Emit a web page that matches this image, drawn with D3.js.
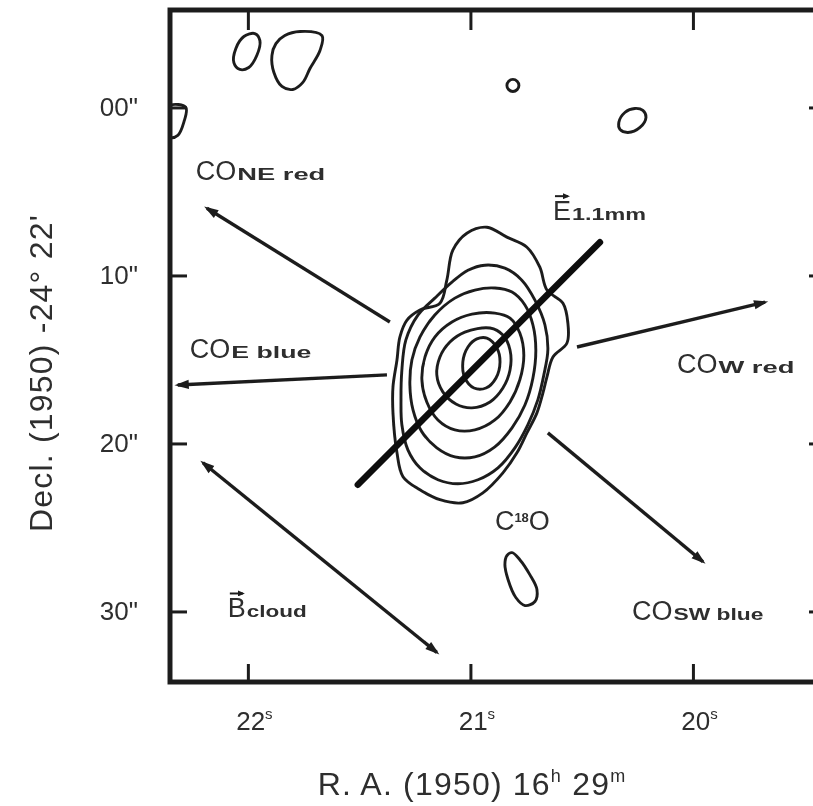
<!DOCTYPE html>
<html>
<head>
<meta charset="utf-8">
<script src="https://cdn.jsdelivr.net/npm/d3@7"></script>
<style>
html, body { margin: 0; padding: 0; background: #fff; }
svg { display: block; font-family: "Liberation Sans", Arial, sans-serif; }
</style>
</head>
<body>
<svg width="813" height="806"></svg>
<script>
/* Ticks: R.A. in seconds of time (16h29m + s), Decl. offset in arcsec (-24d22' + ") */
var raTicks = [22, 21, 20];
var raTickLabels = ["22", "21", "20"];
var decTicks = [0, 10, 20, 30];
var decTickLabels = ["00\"", "10\"", "20\"", "30\""];

/* C18O contours, points as [R.A. s, Decl. "] - outermost first */
var c18oLevel1 = [[20.926,7.13],[20.836,7.72],[20.746,8.32],[20.688,9.51],[20.656,10.87],[20.584,11.65],[20.562,12.83],[20.566,14.02],[20.629,14.85],[20.656,16.04],[20.674,16.99],[20.701,18.18],[20.746,19.37],[20.791,20.56],[20.854,21.75],[20.944,22.94],[21.034,23.53],[21.137,23.35],[21.227,22.76],[21.303,21.98],[21.330,20.56],[21.348,18.18],[21.348,16.64],[21.330,15.03],[21.317,13.67],[21.285,12.66],[21.227,12.06],[21.137,11.65],[21.106,10.28],[21.079,8.50],[21.016,7.49]];
var c18oLevel2 = [[20.935,9.39],[20.845,9.57],[20.769,10.28],[20.710,11.47],[20.665,12.95],[20.652,14.44],[20.670,15.92],[20.697,17.41],[20.742,18.89],[20.800,20.26],[20.876,21.45],[20.966,22.16],[21.056,22.40],[21.146,22.16],[21.227,21.45],[21.281,20.38],[21.308,18.89],[21.312,17.41],[21.308,15.63],[21.290,13.84],[21.236,12.36],[21.160,11.35],[21.083,10.40],[21.011,9.69]];
var c18oLevel3 = [[20.890,10.75],[20.813,10.99],[20.755,11.76],[20.719,12.95],[20.706,14.44],[20.719,16.10],[20.755,17.71],[20.813,19.07],[20.890,20.20],[20.980,20.80],[21.070,20.80],[21.151,20.26],[21.218,19.31],[21.258,18.00],[21.272,16.52],[21.263,15.03],[21.227,13.67],[21.160,12.36],[21.070,11.35],[20.980,10.87]];
var c18oLevel4 = [[20.890,12.24],[20.822,12.54],[20.778,13.43],[20.760,14.74],[20.778,16.22],[20.822,17.53],[20.890,18.60],[20.980,19.19],[21.070,19.19],[21.146,18.60],[21.196,17.53],[21.218,16.22],[21.204,14.85],[21.160,13.67],[21.083,12.77],[20.993,12.30]];
var c18oLevel5 = [[20.912,13.13],[20.854,13.55],[20.822,14.44],[20.822,15.63],[20.854,16.70],[20.912,17.53],[20.993,17.88],[21.065,17.65],[21.124,16.93],[21.151,15.92],[21.137,14.85],[21.092,13.96],[21.025,13.37]];
var c18oLevel6 = [[20.926,13.73],[20.881,14.32],[20.867,15.15],[20.885,16.10],[20.930,16.70],[20.984,16.70],[21.025,16.10],[21.034,15.15],[21.011,14.26],[20.971,13.78]];

/* isolated weak contours */
var blobTopLeft = [[21.969,-4.40],[21.946,-3.98],[21.960,-3.09],[21.996,-2.38],[22.036,-2.26],[22.063,-2.67],[22.054,-3.51],[22.018,-4.22]];
var blobTop = [[21.834,-4.28],[21.766,-4.52],[21.667,-4.28],[21.676,-3.39],[21.721,-2.32],[21.753,-1.49],[21.798,-1.07],[21.847,-1.25],[21.883,-2.08],[21.892,-3.09],[21.874,-3.80]];
var blobSmall = [[20.809,-1.67],[20.790,-1.56],[20.782,-1.31],[20.790,-1.06],[20.809,-0.95],[20.828,-1.06],[20.836,-1.31],[20.828,-1.56]];
var blobRight = [[20.225,0.18],[20.211,0.59],[20.238,1.19],[20.292,1.49],[20.328,1.31],[20.333,0.89],[20.306,0.30],[20.261,0.06]];
var blobEdge = [[22.351,-0.12],[22.279,0.00],[22.288,0.89],[22.315,1.66],[22.351,1.78],[22.400,0.90]];
var blobBottom = [[20.813,26.50],[20.778,26.92],[20.733,27.81],[20.701,28.70],[20.710,29.41],[20.755,29.65],[20.796,29.17],[20.831,28.10],[20.845,27.21],[20.836,26.68]];

var contours = [c18oLevel1, c18oLevel2, c18oLevel3, c18oLevel4, c18oLevel5, c18oLevel6,
                blobTopLeft, blobTop, blobSmall, blobRight, blobEdge, blobBottom];

/* CO outflow directions */
var outflowFrom = [[21.362,12.77], [21.375,15.92], [20.521,14.26], [20.652,19.37]];
var outflowTo   = [[22.184,6.00],  [22.315,16.52], [19.676,11.59], [19.955,27.04]];
var bCloudEnds = [[21.151,32.44], [22.202,21.15]];
var ePolEnds = [[21.506,22.46], [20.418,8.02]];

/* annotations: main text, subscript, anchor [R.A., Decl.] */
var labelMain = ["CO", "CO", "CO", "CO", "B", "E"];
var labelSub = ["NE red", "E blue", "W red", "SW blue", "cloud", "1.1mm"];
var labelAt = [[22.234,4.34], [22.261,14.91], [20.072,15.81], [20.274,30.48], [22.090,30.36], [20.629,6.71]];
var c18oLabelAt = [20.890, 25.13];

var svg = d3.select("svg");
var margin = {top: 10, right: -9, bottom: 124, left: 170};
var width = +svg.attr("width") - margin.left - margin.right;
var height = +svg.attr("height") - margin.top - margin.bottom;
var ink = "#1e1e1e";
var textInk = "#2e2e2e";

var defs = svg.append("defs");
defs.append("filter").attr("id", "soft")
    .append("feGaussianBlur").attr("stdDeviation", 0.6);
defs.append("clipPath").attr("id", "plotclip")
  .append("rect").attr("width", width).attr("height", height);
defs.append("marker")
    .attr("id", "head")
    .attr("viewBox", "0 -5 13 10")
    .attr("refX", 10)
    .attr("refY", 0)
    .attr("markerWidth", 15)
    .attr("markerHeight", 11)
    .attr("markerUnits", "userSpaceOnUse")
    .attr("orient", "auto-start-reverse")
  .append("path")
    .attr("d", "M0,-4.2L13,0L0,4.2Z")
    .attr("fill", ink);
defs.append("marker")
    .attr("id", "hat")
    .attr("viewBox", "0 -3 7 6")
    .attr("refX", 5)
    .attr("refY", 0)
    .attr("markerWidth", 7)
    .attr("markerHeight", 6)
    .attr("markerUnits", "userSpaceOnUse")
    .attr("orient", "auto")
  .append("path")
    .attr("d", "M0,-3L7,0L0,3Z")
    .attr("fill", ink);

var root = svg.append("g").attr("filter", "url(#soft)");
var group = root.append("g").attr("transform", "translate(" + margin.left + "," + margin.top + ")");

/* R.A. runs right to left */
var x = d3.scaleLinear().domain([22.35, 19.42]).range([0, width]);
var y = d3.scaleLinear().domain([-5.8, 34.2]).range([0, height]);

var contourLine = d3.line()
    .x(function(d) { return x(d[0]); })
    .y(function(d) { return y(d[1]); })
    .curve(d3.curveCatmullRomClosed.alpha(0.5));

var plot = group.append("g").attr("clip-path", "url(#plotclip)");

plot.selectAll(".contour")
    .data(contours)
  .enter().append("path")
    .attr("class", "contour")
    .attr("d", contourLine)
    .attr("fill", "none")
    .attr("stroke", ink)
    .attr("stroke-width", 2.9);

/* outflow arrows */
plot.selectAll(".outflow")
    .data(outflowFrom)
  .enter().append("line")
    .attr("class", "outflow")
    .attr("x1", function(d) { return x(d[0]); })
    .attr("y1", function(d) { return y(d[1]); })
    .attr("x2", function(d, i) { return x(outflowTo[i][0]); })
    .attr("y2", function(d, i) { return y(outflowTo[i][1]); })
    .attr("stroke", ink)
    .attr("stroke-width", 3.4)
    .attr("marker-end", "url(#head)");

/* cloud magnetic field, double headed */
plot.append("line")
    .attr("x1", x(bCloudEnds[0][0])).attr("y1", y(bCloudEnds[0][1]))
    .attr("x2", x(bCloudEnds[1][0])).attr("y2", y(bCloudEnds[1][1]))
    .attr("stroke", ink)
    .attr("stroke-width", 3.4)
    .attr("marker-start", "url(#head)")
    .attr("marker-end", "url(#head)");

/* 1.1 mm polarization E vector */
plot.append("line")
    .attr("x1", x(ePolEnds[0][0])).attr("y1", y(ePolEnds[0][1]))
    .attr("x2", x(ePolEnds[1][0])).attr("y2", y(ePolEnds[1][1]))
    .attr("stroke", "#111")
    .attr("stroke-width", 6.5)
    .attr("stroke-linecap", "round");

/* axes: ticks drawn inward, frame drawn separately */
function styleAxis(sel) {
  sel.select(".domain").remove();
  sel.selectAll(".tick line").attr("stroke", ink).attr("stroke-width", 3);
  sel.selectAll(".tick text")
      .attr("fill", textInk)
      .attr("font-size", 26)
      .attr("font-family", "Liberation Sans, Arial, sans-serif");
}

group.append("g")
    .call(d3.axisLeft(y).tickValues(decTicks)
      .tickFormat(function(d, i) { return decTickLabels[i]; })
      .tickSizeInner(-17).tickSizeOuter(0).tickPadding(32))
    .call(styleAxis);

group.append("g")
    .attr("transform", "translate(" + width + ",0)")
    .call(d3.axisRight(y).tickValues(decTicks).tickFormat("")
      .tickSizeInner(-13).tickSizeOuter(0))
    .call(styleAxis);

group.append("g")
    .call(d3.axisTop(x).tickValues(raTicks).tickFormat("")
      .tickSizeInner(-20).tickSizeOuter(0))
    .call(styleAxis);

var bottomAxis = group.append("g")
    .attr("transform", "translate(0," + height + ")")
    .call(d3.axisBottom(x).tickValues(raTicks).tickFormat("")
      .tickSizeInner(-18).tickSizeOuter(0))
    .call(styleAxis);

bottomAxis.selectAll(".tick text")
    .attr("x", 6)
    .attr("y", 48)
    .attr("dy", null)
    .attr("text-anchor", "middle")
    .each(function(d) {
      var t = d3.select(this);
      t.append("tspan").text(raTickLabels[raTicks.indexOf(d)]);
      t.append("tspan").attr("font-size", 15).attr("dy", -11).text("s");
    });

/* frame */
group.append("rect")
    .attr("width", width)
    .attr("height", height)
    .attr("fill", "none")
    .attr("stroke", ink)
    .attr("stroke-width", 5);

/* annotations */
var subWidths = {"NE red": 88, "E blue": 80, "W red": 76, "SW blue": 90, "cloud": 60, "1.1mm": 74};

labelAt.forEach(function(p, i) {
  var px = x(p[0]), py = y(p[1]);
  var main = group.append("text")
      .attr("x", px).attr("y", py)
      .attr("font-size", 27)
      .attr("fill", textInk)
      .text(labelMain[i]);
  var w = main.node().getComputedTextLength();
  group.append("text")
      .attr("x", px + w + 1).attr("y", py)
      .attr("font-size", 16)
      .attr("font-weight", "bold")
      .attr("fill", textInk)
      .attr("textLength", subWidths[labelSub[i]])
      .attr("lengthAdjust", "spacingAndGlyphs")
      .text(labelSub[i]);
  /* vector hat over B and E */
  if (labelMain[i] !== "CO") {
    group.append("line")
        .attr("x1", px + 2).attr("y1", py - 24)
        .attr("x2", px + w - 3).attr("y2", py - 24)
        .attr("stroke", ink)
        .attr("stroke-width", 2)
        .attr("marker-end", "url(#hat)");
  }
});

var c18o = group.append("text")
    .attr("x", x(c18oLabelAt[0])).attr("y", y(c18oLabelAt[1]))
    .attr("font-size", 27)
    .attr("fill", textInk);
c18o.append("tspan").text("C");
c18o.append("tspan").attr("font-size", 13).attr("font-weight", "bold").attr("dy", -8).text("18");
c18o.append("tspan").attr("dy", 8).text("O");

/* axis titles */
var xTitle = root.append("text")
    .attr("x", 472).attr("y", 795)
    .attr("text-anchor", "middle")
    .attr("font-size", 32)
    .attr("letter-spacing", 1.2)
    .attr("fill", textInk);
xTitle.append("tspan").text("R. A. (1950) 16");
xTitle.append("tspan").attr("font-size", 18).attr("dy", -13).text("h");
xTitle.append("tspan").attr("dy", 13).text(" 29");
xTitle.append("tspan").attr("font-size", 18).attr("dy", -13).text("m");

root.append("text")
    .attr("transform", "translate(52,373) rotate(-90)")
    .attr("text-anchor", "middle")
    .attr("font-size", 32)
    .attr("letter-spacing", 1.2)
    .attr("fill", textInk)
    .text("Decl. (1950) -24\u00b0 22'");
</script>
</body>
</html>
